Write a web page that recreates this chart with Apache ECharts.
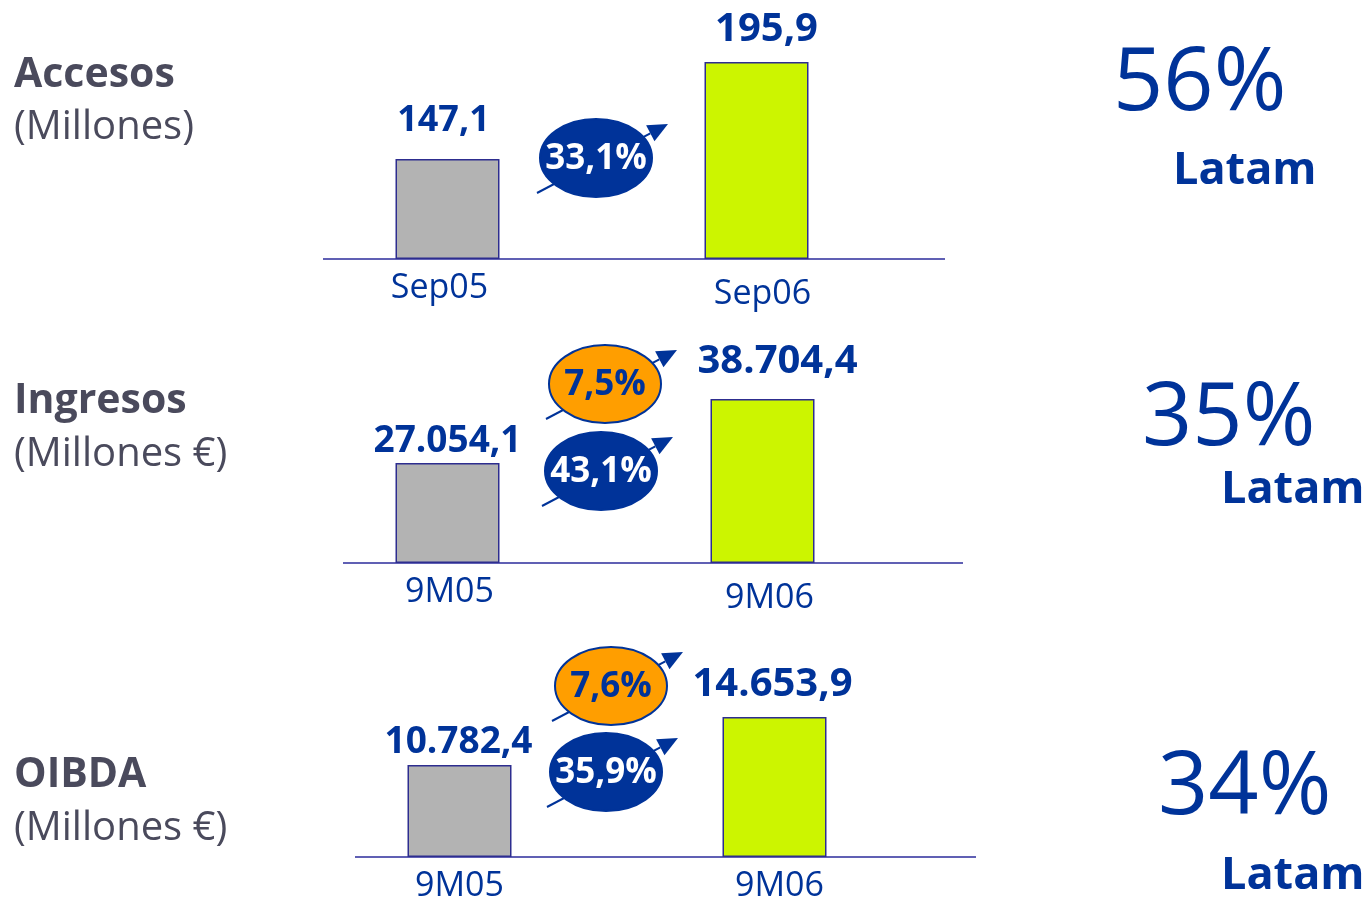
<!DOCTYPE html>
<html>
<head>
<meta charset="utf-8">
<script src="https://cdn.jsdelivr.net/npm/echarts@6/dist/echarts.min.js"></script>
<style>
  html, body { margin: 0; padding: 0; background: #fff; }
  #chart { width: 1368px; height: 899px; }
</style>
</head>
<body>
<div id="chart"></div>
<script>
// datos
const panels = ["Accesos", "Ingresos", "OIBDA"];
const units = ["(Millones)", "(Millones €)", "(Millones €)"];
const periods = [["Sep05", "Sep06"], ["9M05", "9M06"], ["9M05", "9M06"]];
const accesos = [147.1, 195.9];
const ingresos = [27054.1, 38704.4];
const oibda = [10782.4, 14653.9];
const growthTotal = ["33,1%", "43,1%", "35,9%"];
const growthOrganic = [null, "7,5%", "7,6%"];
const latamShare = ["56%", "35%", "34%"];

const values = [accesos, ingresos, oibda];

const NAVY = "#003399";
const FONT = '"Open Sans", "Noto Sans", sans-serif';

// formato español: 27.054,1
function fmt(v) {
  const parts = v.toFixed(1).split(".");
  return parts[0].replace(/\B(?=(\d{3})+(?!\d))/g, ".") + "," + parts[1];
}

// layout de cada panel
const grids = [
  { left: 293, width: 618, top: 9, height: 250, outerBoundsMode: "none" },
  { left: 290, width: 630, top: 313, height: 250, outerBoundsMode: "none" },
  { left: 302, width: 630, top: 607, height: 250, outerBoundsMode: "none" }
];
const yRange = [[96.8, 222.6], [8850, 54359], [3362, 23526]];
const baselines = [[323, 945, 259], [343, 963, 563], [355, 976, 857]];
const labelTweak = [
  [{ d: 20, dx: -4, fs: 36 }, { d: 12, dx: 10, fs: 40 }],
  [{ d: 3, dx: 0, fs: 37 }, { d: 17, dx: 15, fs: 40 }],
  [{ d: 4, dx: -1, fs: 37 }, { d: 12, dx: -2, fs: 40 }]
];
// padding de las etiquetas del eje [arriba, dcha, abajo, izq]
const catPad = [
  [[0, 16, 0, 0], [6, 0, 0, 12]],
  [[0, 0, 0, 4], [6, 0, 0, 14]],
  [[0, 0, 0, 0], [0, 0, 0, 10]]
];
const barColors = ["#b3b3b3", "#ccf500"];
const titlePos = [[75, 128], [401, 455], [775, 829]];
const sharePos = [[1113, 85, 1173, 171], [1142, 420, 1221, 490], [1158, 789, 1221, 876]];
const bubblePos = [
  { total: [596, 158], organic: null },
  { total: [601, 471], organic: [605, 384] },
  { total: [606, 772], organic: [611, 686] }
];

let myChart = echarts.init(document.getElementById("chart"));

const graphics = [];

function arrow(cx, cy) {
  const sx = cx - 59, sy = cy + 35, ex = cx + 72, ey = cy - 34;
  const len = Math.hypot(ex - sx, ey - sy);
  const ux = (ex - sx) / len, uy = (ey - sy) / len;
  const bx = ex - 20 * ux, by = ey - 20 * uy;
  const nx = -uy, ny = ux;
  graphics.push({
    type: "line", z: 1,
    shape: { x1: sx, y1: sy, x2: bx, y2: by },
    style: { stroke: NAVY, lineWidth: 2 }
  });
  graphics.push({
    type: "polygon", z: 1,
    shape: { points: [[ex, ey], [bx + 9 * nx, by + 9 * ny], [bx - 9 * nx, by - 9 * ny]] },
    style: { fill: NAVY }
  });
}

function bubble(pos, text, organic) {
  arrow(pos[0], pos[1]);
  graphics.push({
    type: "ellipse", z: 2,
    shape: { cx: pos[0], cy: pos[1], rx: 56, ry: 39 },
    style: { fill: organic ? "#ff9e00" : NAVY, stroke: NAVY, lineWidth: 2 }
  });
  graphics.push({
    type: "text", z: 3, x: pos[0], y: pos[1] + 1,
    style: {
      text: text, fill: organic ? NAVY : "#fff",
      font: "bold 35px " + FONT,
      align: "center", verticalAlign: "middle",
      textAlign: "center", textVerticalAlign: "middle"
    }
  });
}

function text(x, y, str, font, color) {
  graphics.push({
    type: "text", z: 3, x: x, y: y,
    style: {
      text: str, fill: color, font: font,
      align: "left", verticalAlign: "middle",
      textAlign: "left", textVerticalAlign: "middle"
    }
  });
}

panels.forEach(function (p, i) {
  text(14, titlePos[i][0], p, "bold 41px " + FONT, "#4a4a5c");
  text(14, titlePos[i][1], units[i], "40px " + FONT, "#4a4a5c");
  text(sharePos[i][0], sharePos[i][1], latamShare[i], "88px " + FONT, NAVY);
  text(sharePos[i][2], sharePos[i][3], "Latam", "bold 45px " + FONT, NAVY);
  const b = baselines[i];
  graphics.push({
    type: "line", z: 1,
    shape: { x1: b[0], y1: b[2], x2: b[1], y2: b[2] },
    style: { stroke: "#2b2b9b", lineWidth: 1.5 }
  });
  if (growthOrganic[i]) bubble(bubblePos[i].organic, growthOrganic[i], true);
  bubble(bubblePos[i].total, growthTotal[i], false);
});

myChart.setOption({
  animation: false,
  grid: grids,
  xAxis: grids.map(function (g, i) {
    return {
      type: "category",
      gridIndex: i,
      data: periods[i].map(function (c, j) {
        return { value: c, textStyle: { padding: catPad[i][j] } };
      }),
      axisLine: { show: false },
      axisTick: { show: false },
      axisLabel: { color: NAVY, fontSize: 34, fontFamily: FONT, margin: 12 }
    };
  }),
  yAxis: grids.map(function (g, i) {
    return {
      type: "value",
      gridIndex: i,
      min: yRange[i][0],
      max: yRange[i][1],
      startValue: yRange[i][0],
      show: false,
      splitLine: { show: false }
    };
  }),
  series: values.map(function (vals, i) {
    return {
      type: "bar",
      xAxisIndex: i,
      yAxisIndex: i,
      barWidth: 104,
      clip: true,
      data: vals.map(function (v, j) {
        const t = labelTweak[i][j];
        return {
          value: v,
          itemStyle: { color: barColors[j], borderColor: "#2d2d8f", borderWidth: 1.5 },
          label: {
            show: true,
            position: "top",
            distance: t.d,
            offset: [t.dx, 0],
            formatter: fmt(v),
            color: NAVY,
            fontWeight: "bold",
            fontSize: t.fs,
            fontFamily: FONT
          }
        };
      })
    };
  }),
  graphic: { elements: graphics }
});
</script>
</body>
</html>
